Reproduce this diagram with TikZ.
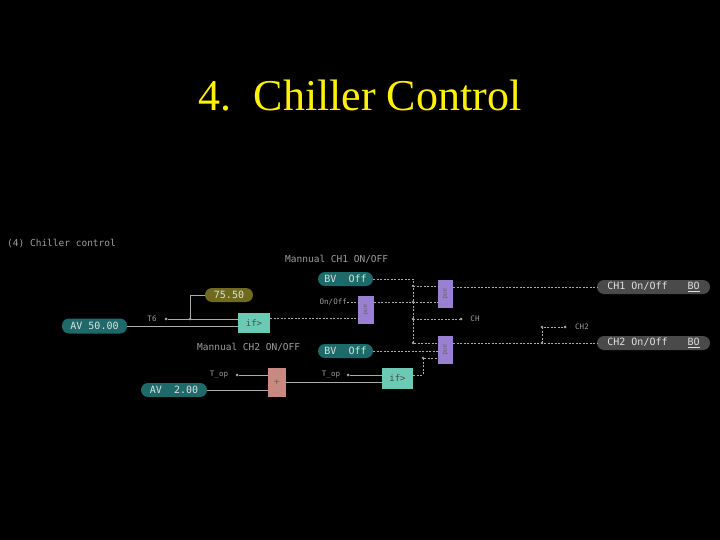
\documentclass[tikz,border=0pt]{standalone}
\usepackage{fontspec}
\setmainfont{Liberation Serif}
\setmonofont{DejaVu Sans Mono}
\definecolor{ifc}{HTML}{6CC9B4}
\definecolor{andc}{HTML}{9A80D0}
\definecolor{plc}{HTML}{C88A80}
\definecolor{tealp}{HTML}{1E6A6A}
\definecolor{olp}{HTML}{6E6A1E}
\definecolor{grp}{HTML}{4A4A4A}
\begin{document}
\begin{tikzpicture}[x=1pt,y=-1pt,
 lbl/.style={font=\ttfamily\fontsize{9.5}{10}\selectfont,text=gray!75,inner sep=0},
 slbl/.style={font=\ttfamily\fontsize{7.5}{8}\selectfont,text=gray!75,inner sep=0},
 pill/.style={rounded corners=7pt,draw=none,fill=#1,font=\ttfamily\fontsize{10}{11}\selectfont,text=gray!25,inner sep=0,align=left},
 blk/.style={fill=#1,draw=none},
 sol/.style={gray!65,line width=1pt},
 dsh/.style={gray!65,line width=1pt,dash pattern=on 2pt off 1.5pt},
 dot/.style={circle,fill=gray!70,inner sep=0,minimum size=3pt}]
\fill[black] (0,0) rectangle (720,540);
\useasboundingbox (0,0) rectangle (720,540);
\node[text=yellow,font=\fontsize{44}{48}\selectfont] (title) at (360,96) {4.\ \ Chiller Control};
\node[lbl,anchor=west] (hdr) at (7,243) {(4) Chiller control};
\node[lbl,anchor=west] (m1) at (285,259) {Mannual CH1 ON/OFF};
\node[lbl,anchor=west] (m2) at (197,347) {Mannual CH2 ON/OFF};
% pills
\node[pill=tealp,minimum width=55pt,minimum height=14pt] (bv1) at (345.5,279) {BV\ \ Off};
\node[pill=tealp,minimum width=55pt,minimum height=14pt] (bv2) at (345.5,351) {BV\ \ Off};
\node[pill=olp,minimum width=48pt,minimum height=14pt] (c75) at (229,295) {75.50};
\node[pill=tealp,minimum width=65pt,minimum height=15pt] (av50) at (94.5,326) {AV 50.00};
\node[pill=tealp,minimum width=66pt,minimum height=14pt] (av2) at (174,390) {AV\ \ 2.00};
\node[pill=grp,minimum width=113pt,minimum height=14pt] (o1) at (653.5,287) {CH1 On/Off\hspace{2em}\underline{BO}};
\node[pill=grp,minimum width=113pt,minimum height=14pt] (o2) at (653.5,343) {CH2 On/Off\hspace{2em}\underline{BO}};
% blocks
\node[blk=ifc,minimum width=32pt,minimum height=20pt,inner sep=0,font=\ttfamily\fontsize{9}{9}\selectfont,text=black!70] (if1) at (254,323) {if>};
\node[blk=ifc,minimum width=31pt,minimum height=21pt,inner sep=0,font=\ttfamily\fontsize{9}{9}\selectfont,text=black!70] (if2) at (397.5,378.5) {if>};
\node[blk=andc,minimum width=28pt,minimum height=16pt,inner sep=0,font=\ttfamily\fontsize{6}{6}\selectfont,rotate=-90,text=black!60] (a0) at (366,310) {and};
\node[blk=andc,minimum width=28pt,minimum height=15pt,inner sep=0,font=\ttfamily\fontsize{6}{6}\selectfont,rotate=-90,text=black!60] (a1) at (445.5,294) {and};
\node[blk=andc,minimum width=28pt,minimum height=15pt,inner sep=0,font=\ttfamily\fontsize{6}{6}\selectfont,rotate=-90,text=black!60] (a2) at (445.5,350) {and};
\node[blk=plc,minimum width=18pt,minimum height=29pt,inner sep=0,text=black!70] (plus) at (277,382.5) {+};
% labels with dots
\node[slbl] (t6) at (152,319) {T6};
\node[dot] (t6d) at (166,319) {};
\coordinate (j6) at (190,319);
\node[slbl,anchor=east] (onoff) at (347,302) {On/Off};
\node[slbl] (top1) at (219,375) {T\_op};
\node[dot] (top1d) at (237,375) {};
\node[slbl] (top2) at (331,375) {T\_op};
\node[dot] (top2d) at (348,375) {};
\node[slbl] (ch) at (475,319) {CH};
\node[dot] (chd) at (461,319) {};
\node[slbl] (ch2) at (582,327) {CH2};
\node[dot] (ch2d) at (565,327) {};
\coordinate (b1) at (413,279); \coordinate (b2) at (413,343);
\coordinate (jc) at (542,343); \coordinate (jt) at (542,327);
% solid
\draw[sol] (t6d) -- (if1.west|-t6d);
\draw[sol] (j6) -- (190,295) -- (c75.west);
\fill[gray!70] (j6) circle (1.5pt);
\draw[sol] (av50.east) -- (238,326);
\draw[sol] (top1d) -- (268,375);
\draw[sol] (av2.east) -- (268,390);
\draw[sol] (top2d) -- (382,375);
\draw[sol] (plus.east|-0,382) -- (382,382);
% dashed
\draw[dsh] (if1.east|-0,318) -- (358,318);
\draw[dsh] (onoff.east) -- (358,302);
\draw[dsh] (374,302) -- (438,302);
\draw[dsh] (bv1.east) -- (b1) -- (b2) -- (438,343);
\draw[dsh] (413,286) -- (438,286);
\draw[dsh] (413,319) -- (chd);
\draw[dsh] (bv2.east) -- (438,351);
\draw[dsh] (if2.east|-0,375) -- (423,375) -- (423,358) -- (438,358);
\draw[dsh] (453,287) -- (o1.west);
\draw[dsh] (453,343) -- (o2.west);
\draw[dsh] (jc) -- (jt) -- (ch2d);
\foreach \p in {(413,286),(413,302),(413,319),(413,343),(542,343),(542,327),(423,358)} \fill[gray!70] \p circle (1.3pt);
\end{tikzpicture}
\end{document}
